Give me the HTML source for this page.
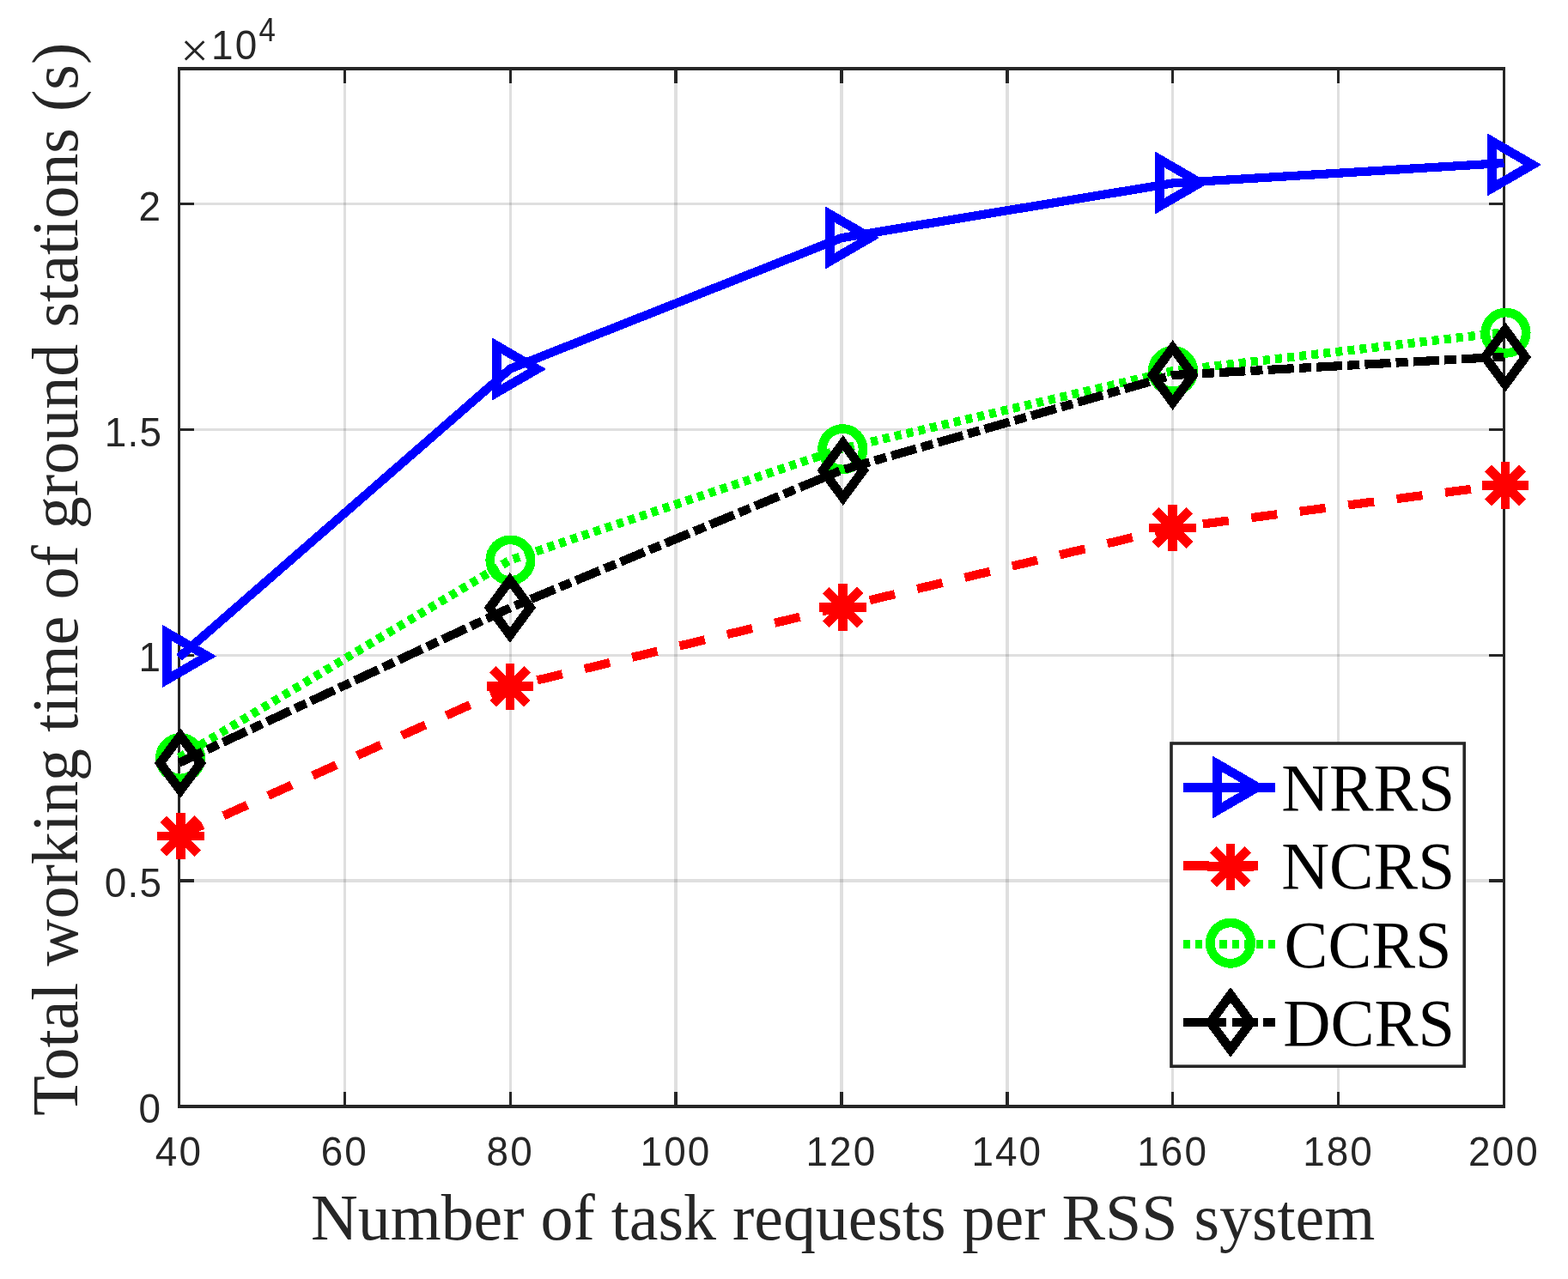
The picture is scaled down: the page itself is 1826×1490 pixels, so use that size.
<!DOCTYPE html>
<html><head><meta charset="utf-8"><title>Total working time of ground stations</title>
<style>html,body{margin:0;padding:0;background:#fff}svg{display:block}</style></head>
<body>
<svg width="1826" height="1490" viewBox="0 0 1826 1490">
<rect width="1826" height="1490" fill="#fff"/>
<g fill="#262626" fill-opacity="0.15">
<rect x="400" y="82" width="3" height="1205"/>
<rect x="593" y="82" width="3" height="1205"/>
<rect x="785" y="82" width="4" height="1205"/>
<rect x="978" y="82" width="4" height="1205"/>
<rect x="1171" y="82" width="4" height="1205"/>
<rect x="1364" y="82" width="3" height="1205"/>
<rect x="1557" y="82" width="3" height="1205"/>
<rect x="210" y="1024" width="1540" height="4"/>
<rect x="210" y="762" width="1540" height="3"/>
<rect x="210" y="499" width="1540" height="3"/>
<rect x="210" y="236" width="1540" height="3"/>
</g>
<g fill="#262626">
<rect x="400" y="1272" width="3" height="16"/><rect x="400" y="81" width="3" height="16"/>
<rect x="593" y="1272" width="3" height="16"/><rect x="593" y="81" width="3" height="16"/>
<rect x="785" y="1272" width="4" height="16"/><rect x="785" y="81" width="4" height="16"/>
<rect x="978" y="1272" width="4" height="16"/><rect x="978" y="81" width="4" height="16"/>
<rect x="1171" y="1272" width="4" height="16"/><rect x="1171" y="81" width="4" height="16"/>
<rect x="1364" y="1272" width="3" height="16"/><rect x="1364" y="81" width="3" height="16"/>
<rect x="1557" y="1272" width="3" height="16"/><rect x="1557" y="81" width="3" height="16"/>
<rect x="209" y="1024" width="17" height="4"/><rect x="1734" y="1024" width="17" height="4"/>
<rect x="209" y="762" width="17" height="3"/><rect x="1734" y="762" width="17" height="3"/>
<rect x="209" y="499" width="17" height="3"/><rect x="1734" y="499" width="17" height="3"/>
<rect x="209" y="236" width="17" height="3"/><rect x="1734" y="236" width="17" height="3"/>
<rect x="207" y="78" width="3" height="1213"/><rect x="1750" y="78" width="3" height="1213"/><rect x="207" y="78" width="1546" height="4"/><rect x="207" y="1287" width="1546" height="4"/></g>
<g font-family="'Liberation Sans', sans-serif" font-size="48" letter-spacing="2.15" fill="#262626">
<text transform="translate(208.4 1357.5) scale(0.957 1)" text-anchor="middle">40</text>
<text transform="translate(401.27 1357.5) scale(0.957 1)" text-anchor="middle">60</text>
<text transform="translate(594.15 1357.5) scale(0.957 1)" text-anchor="middle">80</text>
<text transform="translate(787.02 1357.5) scale(0.957 1)" text-anchor="middle">100</text>
<text transform="translate(979.9 1357.5) scale(0.957 1)" text-anchor="middle">120</text>
<text transform="translate(1172.78 1357.5) scale(0.957 1)" text-anchor="middle">140</text>
<text transform="translate(1365.65 1357.5) scale(0.957 1)" text-anchor="middle">160</text>
<text transform="translate(1558.53 1357.5) scale(0.957 1)" text-anchor="middle">180</text>
<text transform="translate(1751.4 1357.5) scale(0.957 1)" text-anchor="middle">200</text>
<text transform="translate(189 1308.1) scale(0.957 1)" text-anchor="end">0</text>
<text transform="translate(189.2 1045.27) scale(0.957 1)" text-anchor="end" letter-spacing="1.24">0.5</text>
<text transform="translate(189 782.45) scale(0.957 1)" text-anchor="end">1</text>
<text transform="translate(189.2 519.62) scale(0.957 1)" text-anchor="end" letter-spacing="1.24">1.5</text>
<text transform="translate(189 256.8) scale(0.957 1)" text-anchor="end">2</text>
<text transform="translate(246.1 68.6) scale(0.957 1)">10</text><text transform="translate(301.6 47.9) scale(0.9 1)" font-size="38.7" letter-spacing="0">4</text>
</g>
<text x="210.2" y="77.7" font-family="'Liberation Serif', serif" font-size="58" fill="#262626">×</text>
<g font-family="'Liberation Serif', serif" font-size="75.9" fill="#262626">
<text x="981.6" y="1444.4" text-anchor="middle">Number of task requests per RSS system</text>
<text transform="translate(90 674.8) rotate(-90)" text-anchor="middle" font-size="76.1">Total working time of ground stations (s)</text>
</g>
<g shape-rendering="crispEdges">
<clipPath id="c"><rect x="208.5" y="80.0" width="1543.0" height="1209.0"/></clipPath>
<polyline points="208.5,765.8 594.25,429.6 980,277.1 1365.75,213.4 1751.5,190" fill="none" stroke="#0000ff" stroke-width="10.2" stroke-linejoin="round"/>
<path d="M194.35 737.15L241.45 764.45L194.35 791.75Z" fill="none" stroke="#0000ff" stroke-width="10.7" stroke-linejoin="miter" stroke-miterlimit="10"/>
<path d="M578.35 402.7L625.45 430L578.35 457.3Z" fill="none" stroke="#0000ff" stroke-width="10.7" stroke-linejoin="miter" stroke-miterlimit="10"/>
<path d="M966.4 249.65L1013.5 276.95L966.4 304.25Z" fill="none" stroke="#0000ff" stroke-width="10.7" stroke-linejoin="miter" stroke-miterlimit="10"/>
<path d="M1350.38 185.7L1397.48 213L1350.38 240.3Z" fill="none" stroke="#0000ff" stroke-width="10.7" stroke-linejoin="miter" stroke-miterlimit="10"/>
<path d="M1737.4 164.6L1784.5 191.9L1737.4 219.2Z" fill="none" stroke="#0000ff" stroke-width="10.7" stroke-linejoin="miter" stroke-miterlimit="10"/>
<polyline points="208.5,973.6 594.25,800 980,707 1365.75,615 1751.5,564.8" fill="none" stroke="#ff0000" stroke-width="10.2" stroke-linejoin="round" stroke-dasharray="30.2 26.7"/>
<path d="M182.9 974H237.5M210.2 946.7V1001.3M190.19 953.99L230.21 994.01M190.19 994.01L230.21 953.99" fill="none" stroke="#ff0000" stroke-width="10.7"/>
<path d="M566.7 799.8H621.3M594 772.5V827.1M573.99 779.79L614.01 819.81M573.99 819.81L614.01 779.79" fill="none" stroke="#ff0000" stroke-width="10.7"/>
<path d="M954.4 707.45H1009M981.7 680.15V734.75M961.69 687.44L1001.71 727.46M961.69 727.46L1001.71 687.44" fill="none" stroke="#ff0000" stroke-width="10.7"/>
<path d="M1338.15 614.9H1392.75M1365.45 587.6V642.2M1345.44 594.89L1385.46 634.91M1345.44 634.91L1385.46 594.89" fill="none" stroke="#ff0000" stroke-width="10.7"/>
<path d="M1725.7 565.45H1780.3M1753 538.15V592.75M1732.99 545.44L1773.01 585.46M1732.99 585.46L1773.01 545.44" fill="none" stroke="#ff0000" stroke-width="10.7"/>
<polyline points="208.5,882.8 594.25,652.4 980,522.8 1365.75,432.1 1751.5,387.2" fill="none" stroke="#00ff00" stroke-width="10.2" stroke-linejoin="round" stroke-dasharray="8.1 6.05"/>
<circle cx="210.05" cy="883.2" r="23.7" fill="none" stroke="#00ff00" stroke-width="10.7"/>
<circle cx="594.4" cy="652.6" r="23.7" fill="none" stroke="#00ff00" stroke-width="10.7"/>
<circle cx="981.3" cy="523.2" r="23.7" fill="none" stroke="#00ff00" stroke-width="10.7"/>
<circle cx="1366" cy="432.15" r="23.7" fill="none" stroke="#00ff00" stroke-width="10.7"/>
<circle cx="1753.5" cy="387.7" r="23.7" fill="none" stroke="#00ff00" stroke-width="10.7"/>
<polyline points="208.5,888.7 594.25,708 980,547.7 1365.75,437 1751.5,415.6" fill="none" stroke="#000000" stroke-width="10.2" stroke-linejoin="round" stroke-dasharray="30.2 6.1 14.1 6.1"/>
<path d="M210 857.1L233.5 889L210 920.9L186.5 889Z" fill="none" stroke="#000000" stroke-width="10.7" stroke-linejoin="miter" stroke-miterlimit="10"/>
<path d="M593.9 676L617.4 707.9L593.9 739.8L570.4 707.9Z" fill="none" stroke="#000000" stroke-width="10.7" stroke-linejoin="miter" stroke-miterlimit="10"/>
<path d="M981.75 516.1L1005.25 548L981.75 579.9L958.25 548Z" fill="none" stroke="#000000" stroke-width="10.7" stroke-linejoin="miter" stroke-miterlimit="10"/>
<path d="M1365.7 405.1L1389.2 437L1365.7 468.9L1342.2 437Z" fill="none" stroke="#000000" stroke-width="10.7" stroke-linejoin="miter" stroke-miterlimit="10"/>
<path d="M1752.9 384.1L1776.4 416L1752.9 447.9L1729.4 416Z" fill="none" stroke="#000000" stroke-width="10.7" stroke-linejoin="miter" stroke-miterlimit="10"/>
</g>
<rect x="1364" y="866" width="341.20000000000005" height="376.20000000000005" fill="#fff" stroke="#262626" stroke-width="3.6"/>
<g font-family="'Liberation Serif', serif" font-size="77.3" fill="#000">
<g shape-rendering="crispEdges"><path d="M1378 917.4H1485" fill="none" stroke="#0000ff" stroke-width="10.2"/>
<path d="M1417.3 889.75L1464.4 917.05L1417.3 944.35Z" fill="none" stroke="#0000ff" stroke-width="10.7" stroke-linejoin="miter" stroke-miterlimit="10"/></g>
<text transform="translate(1492.2 943.6) scale(1 1)">NRRS</text>
<g shape-rendering="crispEdges"><path d="M1378 1008.4H1485" fill="none" stroke="#ff0000" stroke-width="10.2" stroke-dasharray="30.2 26.7"/>
<path d="M1405.7 1009.8H1460.3M1433 982.5V1037.1M1412.99 989.79L1453.01 1029.81M1412.99 1029.81L1453.01 989.79" fill="none" stroke="#ff0000" stroke-width="10.7"/></g>
<text transform="translate(1492.2 1035.4) scale(1 1)">NCRS</text>
<g shape-rendering="crispEdges"><path d="M1378 1100.05H1485" fill="none" stroke="#00ff00" stroke-width="10.2" stroke-dasharray="8.1 6.05"/>
<circle cx="1433" cy="1098.7" r="23.7" fill="none" stroke="#00ff00" stroke-width="10.7"/></g>
<text transform="translate(1495.6 1127) scale(0.986 1)">CCRS</text>
<g shape-rendering="crispEdges"><path d="M1378 1191.0H1485" fill="none" stroke="#000000" stroke-width="10.2" stroke-dasharray="30.2 6.1 14.1 6.1"/>
<path d="M1433 1159L1456.5 1190.9L1433 1222.8L1409.5 1190.9Z" fill="none" stroke="#000000" stroke-width="10.7" stroke-linejoin="miter" stroke-miterlimit="10"/></g>
<text transform="translate(1494.2 1218.2) scale(0.99 1)">DCRS</text>
</g>
</svg>
</body></html>
